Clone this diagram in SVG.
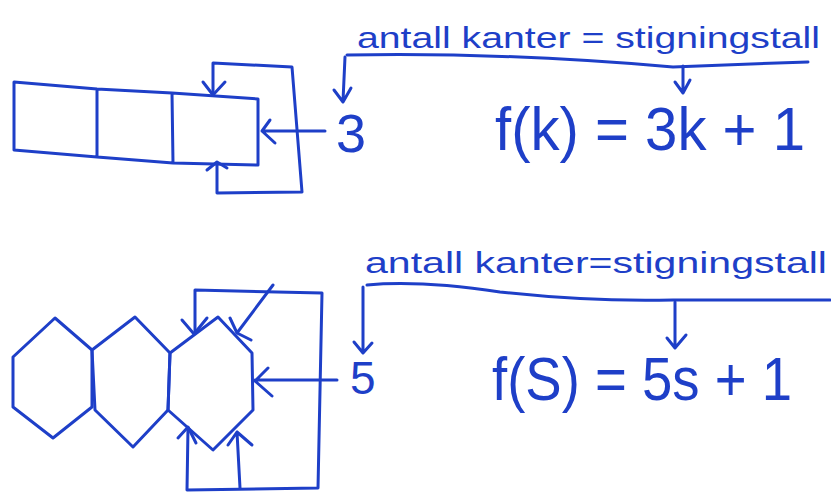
<svg xmlns="http://www.w3.org/2000/svg" width="831" height="492" viewBox="0 0 831 492">
<style>
.ln{fill:none;stroke:#1e3fc8;stroke-width:3;stroke-linejoin:round;stroke-linecap:round}
.tx{fill:#1e3fc8;font-family:"Liberation Sans",Arial,sans-serif}
</style>
<rect width="831" height="492" fill="#fff"/>
<g id="squares">
<path class="ln" d="M14,82 L97,89 L172,93 L258,99 L258,165 L173,163 L97,157 L14,150 Z M97,89 L97,157 M172,93 L173,163"/>
</g>
<g id="hexagons">
<path class="ln" d="M55,318 L92,350 L92,407 L53,438 L13,407 L13,357 Z"/>
<path class="ln" d="M135,317 L170,353 L168,410 L133,447 L95,410 L92,350 Z"/>
<path class="ln" d="M218,317 L252,353 L253,410 L213,450 L168,410 L170,353 Z"/>
</g>
<g id="labels">
<text class="tx" x="357" y="48" font-size="30" textLength="463" lengthAdjust="spacingAndGlyphs">antall kanter = stigningstall</text>
<text class="tx" x="336" y="152" font-size="54">3</text>
<text class="tx" x="495" y="150" font-size="62" textLength="310" lengthAdjust="spacingAndGlyphs">f(k) = 3k + 1</text>
<text class="tx" x="365" y="273" font-size="30" textLength="462" lengthAdjust="spacingAndGlyphs">antall kanter=stigningstall</text>
<text class="tx" x="350" y="394" font-size="46">5</text>
<text class="tx" x="492" y="400" font-size="62" textLength="300" lengthAdjust="spacingAndGlyphs">f(S) = 5s + 1</text>
</g>
<g id="connectors">
<path class="ln" d="M347,55 Q500,52 673,67 Q740,64 808,62"/>
<path class="ln" d="M345,57 L343,101 M334,90 L343,102 L351,88"/>
<path class="ln" d="M683,66 L683,92 M675,82 L683,93 L690,80"/>
<path class="ln" d="M213,95 L213,63 L292,67 L302,192 L217,193 L217,163"/>
<path class="ln" d="M203,82 L213,95 L225,82"/>
<path class="ln" d="M207,170 L217,162 L227,168"/>
<path class="ln" d="M325,131 L262,131 M270,120 L262,131 L275,143"/>
<path class="ln" d="M367,285 Q420,280 500,292 Q590,302 673,300 Q750,300 830,300"/>
<path class="ln" d="M363,287 L363,352 M354,342 L363,353 L372,343"/>
<path class="ln" d="M675,302 L675,347 M667,338 L675,348 L686,335"/>
<path class="ln" d="M195,332 L195,290 L322,293 L318,488 L187,490 L188,428"/>
<path class="ln" d="M182,320 L194,334 L207,318"/>
<path class="ln" d="M273,285 L237,333 M230,318 L237,333 L251,340"/>
<path class="ln" d="M337,380 L255,380 M268,368 L255,381 L272,396"/>
<path class="ln" d="M178,438 L188,427 L196,443"/>
<path class="ln" d="M240,488 L237,432 M228,445 L237,432 L252,445"/>
</g>
</svg>
